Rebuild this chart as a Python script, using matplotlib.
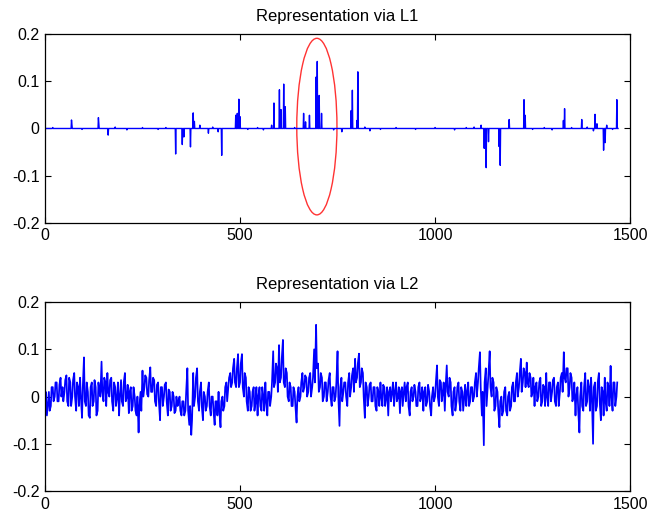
import matplotlib.pyplot as plt
from matplotlib.patches import Ellipse
import numpy as np

plt.rcParams['font.family'] = ['Liberation Sans', 'DejaVu Sans']

n_samples = 1470

# L1 representation: sparse, spike positions and heights
l1_idx = [68, 69, 137, 138, 162, 335, 352, 356, 373, 380, 383, 397, 419, 444, 453,
          489, 493, 497, 500, 581, 587, 601, 605, 612, 616, 663, 668, 678,
          695, 698, 703, 709, 761, 785, 788, 800, 802, 833,
          1118, 1126, 1131, 1137, 1164, 1167, 1190, 1228, 1231,
          1329, 1332, 1376, 1406, 1410, 1415, 1432, 1436, 1440, 1466]
l1_val = [0.018, 0.008, 0.023, 0.01, -0.014, -0.054, -0.034, -0.018, -0.039, 0.033, 0.015, 0.007, -0.01, -0.007, -0.057,
          0.028, 0.032, 0.062, 0.025, 0.007, 0.054, 0.082, 0.04, 0.094, 0.046, 0.032, 0.014, 0.028,
          0.109, 0.142, 0.07, 0.032, -0.007, 0.038, 0.081, 0.017, 0.12, -0.005,
          0.007, -0.042, -0.083, -0.028, -0.038, -0.078, 0.019, 0.061, 0.028,
          0.017, 0.042, 0.019, -0.005, 0.03, 0.01, -0.046, -0.03, 0.007, 0.061]

# small wiggles on the L1 baseline
base_idx = [20, 95, 180, 210, 250, 290, 310, 430, 520, 545, 560, 640, 740, 820, 860,
            900, 950, 1000, 1050, 1080, 1100, 1250, 1280, 1300, 1350, 1390, 1455]
base_val = [0.002, -0.002, 0.003, -0.003, 0.002, -0.002, 0.002, 0.003, -0.002, 0.002, -0.003, 0.002, -0.003, 0.003, -0.002,
            0.002, -0.002, 0.002, -0.003, 0.002, 0.003, -0.002, 0.002, -0.003, 0.002, 0.003, -0.002]

# L2 representation, estimated at samples 0, 5, 10, ...
l2_step = 5
l2_val = [
    -0.03, -0.04, 0.01, -0.02, 0.02, 0.0, 0.03, -0.01, 0.04, 0.02,
    0.01, 0.045, -0.02, 0.03, 0.0, 0.05, -0.03, 0.02, 0.04, -0.045,
    0.083, -0.02, 0.01, -0.045, 0.03, -0.01, 0.02, -0.03, 0.01, 0.074,
    -0.01, 0.03, 0.05, 0.0, 0.04, -0.03, 0.02, 0.0, -0.04, 0.035,
    -0.02, 0.05, 0.0, -0.035, 0.02, -0.02, 0.0, -0.04, -0.076, 0.01,
    0.055, 0.02, 0.04, 0.0, 0.062, 0.01, 0.035, -0.02, 0.03, -0.05,
    0.02, 0.0, 0.03, -0.04, 0.01, -0.02, 0.0, -0.03, -0.02, 0.0,
    -0.04, -0.01, -0.03, 0.06, -0.06, -0.081, 0.05, 0.0, 0.06, -0.03,
    0.03, -0.05, 0.0, -0.02, 0.03, -0.04, 0.0, -0.06, -0.01, 0.01,
    -0.065, 0.0, -0.02, 0.03, 0.02, 0.05, 0.03, 0.08, 0.02, 0.09,
    0.03, 0.09, 0.0, 0.04, -0.03, 0.01, -0.02, 0.02, -0.01, -0.04,
    0.02, -0.03, 0.0, 0.03, -0.04, 0.01, 0.0, 0.096, 0.03, 0.06,
    0.109, 0.04, 0.12, 0.02, 0.05, -0.01, 0.02, -0.02, 0.01, -0.055,
    0.02, 0.0, 0.05, 0.02, 0.04, 0.01, 0.05, 0.02, 0.1, 0.152,
    0.07, 0.02, 0.04, 0.0, 0.03, 0.01, 0.05, -0.02, 0.02, 0.0,
    0.096, -0.062, 0.04, 0.01, 0.03, -0.02, 0.05, 0.02, 0.06, 0.08,
    0.04, 0.091, 0.03, 0.05, -0.045, 0.02, 0.0, 0.03, -0.01, 0.02,
    -0.03, 0.01, 0.03, -0.02, 0.02, 0.0, -0.04, 0.02, 0.01, -0.02,
    0.03, 0.0, -0.035, 0.02, 0.01, -0.01, 0.03, -0.04, 0.02, 0.0,
    0.01, -0.02, 0.03, 0.0, -0.03, 0.02, -0.01, 0.01, -0.04, 0.02,
    0.0, 0.066, -0.02, 0.03, 0.01, -0.03, 0.066, 0.0, 0.03, -0.04,
    0.02, -0.01, 0.03, -0.03, 0.01, 0.0, -0.02, 0.03, -0.01, 0.02,
    0.0, 0.05, 0.03, 0.094, -0.04, -0.103, 0.06, 0.02, 0.096, 0.0,
    0.03, -0.02, 0.01, -0.065, 0.0, -0.03, 0.02, -0.04, 0.01, -0.02,
    0.03, -0.01, 0.05, 0.02, 0.08, 0.03, 0.05, 0.072, 0.02, 0.04,
    0.01, -0.02, 0.03, 0.0, 0.04, -0.01, 0.02, 0.05, -0.02, 0.03,
    0.01, 0.04, -0.02, 0.03, 0.01, 0.05, 0.094, 0.03, 0.06, 0.02,
    0.04, 0.0, -0.04, 0.02, -0.076, 0.03, -0.03, 0.05, -0.01, 0.02,
    0.04, -0.1, 0.03, -0.02, 0.05, -0.05, 0.01, 0.04, -0.03, 0.02,
    0.065, -0.03, 0.03, 0.0,
]
# in-between samples 2, 7, 12, ...
l2_mid = [
    0.01, -0.02, -0.03, 0.02, -0.01, 0.03, -0.01, 0.025, 0.0, -0.01,
    0.035, -0.01, 0.04, -0.02, 0.035, 0.0, 0.03, -0.02, 0.0, 0.02,
    -0.01, 0.03, -0.04, 0.02, -0.02, 0.035, -0.04, 0.03, 0.0, 0.01,
    0.04, -0.02, 0.01, 0.035, -0.01, 0.03, -0.02, 0.03, 0.0, -0.01,
    0.03, -0.01, 0.025, 0.01, -0.03, 0.02, -0.03, 0.0, -0.02, -0.03,
    0.0, 0.045, 0.005, 0.035, 0.01, 0.04, -0.01, 0.025, -0.01, 0.02,
    -0.02, 0.025, -0.01, 0.015, -0.03, 0.01, -0.035, 0.0, -0.01, -0.03,
    -0.01, -0.04, 0.01, -0.03, -0.02, -0.05, -0.02, 0.04, -0.01, 0.01,
    -0.02, 0.01, -0.03, 0.01, -0.02, 0.0, -0.03, -0.01, -0.04, -0.03,
    -0.01, -0.03, 0.02, -0.01, 0.04, 0.02, 0.06, 0.03, 0.06, 0.02,
    0.07, 0.02, 0.05, -0.01, 0.02, -0.03, 0.01, -0.03, 0.02, 0.0,
    -0.02, 0.02, -0.03, -0.01, 0.01, -0.02, 0.03, 0.02, 0.07, 0.01,
    0.03, 0.08, 0.03, 0.06, 0.0, 0.03, -0.02, 0.02, -0.02, 0.0,
    -0.01, 0.03, 0.01, 0.045, 0.0, 0.04, 0.0, 0.04, 0.03, 0.06,
    0.01, 0.05, -0.01, 0.03, -0.01, 0.035, 0.0, 0.02, -0.01, 0.03,
    0.0, 0.02, -0.01, 0.03, 0.0, 0.03, 0.0, 0.045, 0.01, 0.03,
    0.07, 0.02, 0.06, 0.0, 0.03, -0.02, 0.025, -0.01, 0.02, -0.02,
    0.02, -0.02, 0.0, 0.025, -0.02, 0.02, 0.01, -0.01, 0.03, 0.01,
    -0.01, 0.02, 0.01, -0.02, 0.03, 0.02, -0.02, 0.01, -0.01, 0.025,
    -0.02, 0.02, -0.01, 0.02, 0.01, -0.02, 0.025, -0.02, 0.0, -0.01,
    0.03, 0.0, 0.035, -0.01, 0.03, 0.02, 0.01, 0.04, -0.02, 0.01,
    -0.03, 0.02, -0.01, 0.02, -0.03, 0.025, 0.01, -0.02, 0.02, -0.01,
    0.03, 0.0, 0.06, 0.02, 0.01, 0.03, -0.02, 0.05, 0.02, 0.04,
    -0.03, 0.02, -0.03, -0.01, -0.04, 0.01, -0.03, 0.0, -0.03, 0.02,
    -0.01, 0.03, 0.0, 0.05, 0.01, 0.06, 0.02, 0.03, 0.05, 0.0,
    0.04, 0.02, -0.01, 0.03, -0.02, 0.025, -0.02, 0.0, 0.03, -0.01,
    0.035, -0.01, 0.02, -0.02, 0.04, 0.01, 0.04, 0.06, 0.0, 0.05,
    -0.01, 0.03, 0.0, -0.03, 0.0, -0.02, 0.02, -0.02, 0.035, -0.03,
    0.0, 0.02, -0.03, 0.03, -0.01, 0.02, -0.04, -0.01, 0.03, -0.02,
    0.0, 0.03, -0.02, 0.03,
]

titles = ['Representation via L1', 'Representation via L2']
xticks = [0, 500, 1000, 1500]
yticks = [-0.2, -0.1, 0, 0.1, 0.2]
ytick_labels = ['-0.2', '-0.1', '0', '0.1', '0.2']

# highlighted region on the L1 plot
ellipse_center = (697, 0.004)
ellipse_w = 103
ellipse_h = 0.374

l1 = np.zeros(n_samples)
l1[base_idx] = base_val
l1[l1_idx] = l1_val
x1 = np.arange(n_samples)

xa = np.arange(len(l2_val)) * l2_step
x2 = np.column_stack([xa, xa + 2]).ravel()
y2 = np.column_stack([l2_val, l2_mid]).ravel()

fig = plt.figure(figsize=(6.48, 5.16), dpi=100)
ax1 = fig.add_axes([0.0694, 0.568, 0.903, 0.366])
ax2 = fig.add_axes([0.0694, 0.0484, 0.903, 0.366])

ax1.plot(x1, l1, color='#0000ff', lw=1.0)
ax2.plot(x2, y2, color='#0000ff', lw=1.25)
ax1.add_patch(Ellipse(ellipse_center, ellipse_w, ellipse_h, fill=False,
                      edgecolor='#ff3333', lw=1.0))

for ax, t in zip([ax1, ax2], titles):
    ax.set_xlim(0, 1500)
    ax.set_ylim(-0.2, 0.2)
    ax.set_xticks(xticks)
    ax.set_yticks(yticks)
    ax.set_yticklabels(ytick_labels)
    ax.tick_params(direction='in', top=True, right=True, length=4,
                   labelsize=11.5, pad=4, width=0.8)
    for s in ax.spines.values():
        s.set_linewidth(0.9)
    ax.set_title(t, fontsize=12, pad=9.5)

fig.savefig('out.png', dpi=100)
